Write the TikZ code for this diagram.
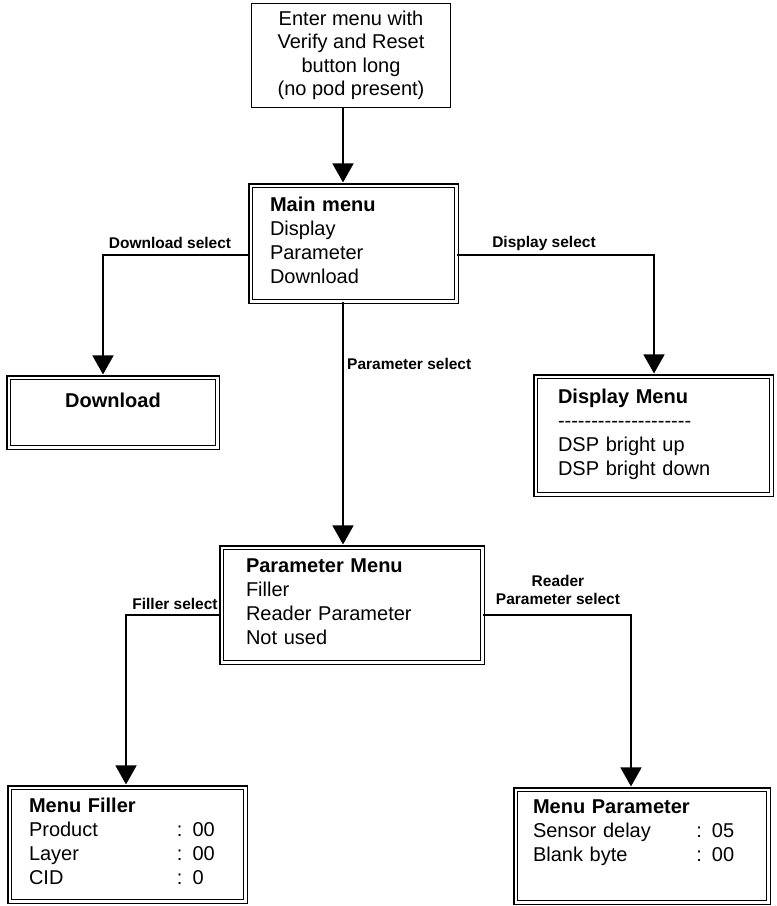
\documentclass[tikz,border=0pt]{standalone}
\usepackage{fontspec}
\setmainfont{Liberation Sans}
\usetikzlibrary{arrows.meta}
% a single hyphen that never joins its neighbour into a dash ligature
\newcommand\hyph{-\kern0pt }
% extra depth under the last text line of a menu box
\newcommand\tailgap{\rule[-7pt]{0pt}{7pt}}
\begin{document}
\begin{tikzpicture}[x=1pt,y=-1pt,
  every node/.style={inner sep=0pt},
  plainbox/.style={draw, line width=0.9pt, align=center,
    font=\fontsize{20}{23.5}\selectfont},
  menubox/.style={draw, line width=1.5pt, double, double distance=2.2pt,
    font=\fontsize{20}{24}\selectfont},
  link/.style={line width=1.5pt},
  flow/.style={link, shorten >=2.4pt, -{Triangle[width=21pt,length=19pt]}},
  lbl/.style={font=\bfseries\fontsize{15.5}{18}\selectfont, align=center}]

\useasboundingbox (0,0) rectangle (777,906);

% boxes
\node[plainbox, minimum width=199.1pt, minimum height=104.1pt] (entry) at (351,55.5)
  {Enter menu with\\Verify and Reset\\button long\\(no pod present)};

\node[menubox, minimum width=205.8pt, minimum height=115.8pt,
      text width=167pt, inner xsep=19.4pt, align=left] (main) at (353.5,243.5)
  {\textbf{Main menu}\\Display\\Parameter\\Download\tailgap};

\node[menubox, minimum width=208.8pt, minimum height=69.8pt, align=center] (download) at (113,412.5)
  {\textbf{Download}\\ \mbox{}};

\node[menubox, minimum width=235.8pt, minimum height=117.8pt,
      text width=191pt, inner xsep=22.4pt, align=left] (display) at (653.5,435.5)
  {\textbf{Display Menu}\\
   \hyph\hyph\hyph\hyph\hyph\hyph\hyph\hyph\hyph\hyph\hyph\hyph\hyph\hyph\hyph\hyph\hyph\hyph\hyph\hyph\\
   DSP bright up\\DSP bright down\tailgap};

\node[menubox, minimum width=260.8pt, minimum height=114.8pt,
      text width=212pt, inner xsep=24.4pt, align=left] (param) at (352,605)
  {\textbf{Parameter Menu}\\Filler\\Reader Parameter\\Not used\tailgap};

\node[menubox, minimum width=235.8pt, minimum height=113.8pt,
      text width=197pt, inner xsep=19.4pt, align=left] (filler) at (127.5,844.5)
  {\textbf{Menu Filler}\\
   \makebox[148pt][l]{Product}: 00\\
   \makebox[148pt][l]{Layer}: 00\\
   \makebox[148pt][l]{CID}: 0\tailgap};

\node[menubox, minimum width=252.8pt, minimum height=112.8pt,
      text width=218pt, inner xsep=17.4pt, align=left] (readpar) at (642,846)
  {\textbf{Menu Parameter}\\
   \makebox[163.4pt][l]{Sensor delay}: 05\\
   \makebox[163.4pt][l]{Blank byte}: 00\\
   \tailgap};

% bend points of the connectors
\coordinate (trunk) at (343,0);
\coordinate (dlturn) at (103,255);
\coordinate (dpturn) at (654,255);
\coordinate (flturn) at (126,615);
\coordinate (rpturn) at (631,615);

% connectors
\draw[flow] (entry.south -| trunk) -- (main.north -| trunk);
\draw[flow] (main.west |- dlturn) -- (dlturn) -- (download.north -| dlturn);
\draw[flow] (main.east |- dpturn) -- (dpturn) -- (display.north -| dpturn);
\draw[flow] (main.south -| trunk) -- (param.north -| trunk);
\draw[flow] (param.west |- flturn) -- (flturn) -- (filler.north -| flturn);
\draw[flow] (param.east |- rpturn) -- (rpturn) -- (readpar.north -| rpturn);

% connector labels
\node[lbl] (dlsel) at (170,243) {Download select};
\node[lbl] (dpsel) at (544,243) {Display select};
\node[lbl, anchor=west] (prsel) at (347,364) {Parameter select};
\node[lbl] (flsel) at (175,604) {Filler select};
\node[lbl] (rpsel) at (558,590) {Reader\\Parameter select};
\end{tikzpicture}
\end{document}
